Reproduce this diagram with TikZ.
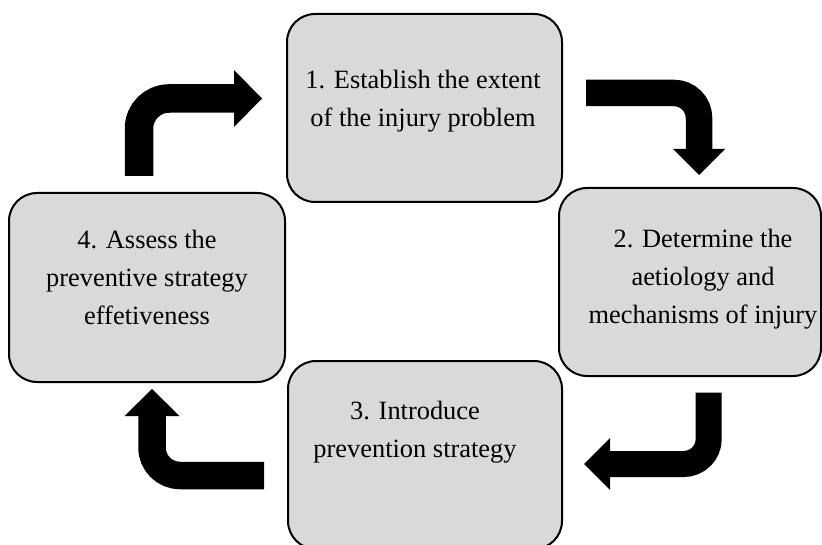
\documentclass[tikz,border=0pt]{standalone}
\usepackage{fontspec}
\setmainfont{Liberation Serif}
\usetikzlibrary{arrows.meta}
\definecolor{boxgray}{HTML}{D9D9D9}
\begin{document}
\begin{tikzpicture}[x=1pt,y=-1pt,
  stepbox/.style={draw=black, line width=2pt, fill=boxgray, rounded corners=28pt, inner sep=0pt},
  steptext/.style={font=\fontsize{26.4}{38}\selectfont, align=center, anchor=north, inner sep=0pt},
  conn/.style={draw=black, line cap=butt, line join=miter}
]
\useasboundingbox (0,0) rectangle (822,545);
\clip (0,0) rectangle (822,545);

% boxes
\node[stepbox, minimum width=275pt, minimum height=188pt] (b1) at (424.5,108) {};
\node[stepbox, minimum width=262pt, minimum height=188pt] (b2) at (690,282) {};
\node[stepbox, minimum width=274pt, minimum height=188pt] (b3) at (425,455) {};
\node[stepbox, minimum width=276pt, minimum height=189pt] (b4) at (147,287.5) {};

% texts
\node[steptext] (t1) at (423,61.4) {\strut 1. Establish the extent\\of the injury problem};
\node[steptext] (t2) at (703,220.4) {\strut 2. Determine the\\aetiology and\\mechanisms of injury};
\node[steptext] (t3) at (415,392.4) {\strut 3. Introduce\\prevention strategy};
\node[steptext] (t4) at (147,221.4) {\strut 4. Assess the\\preventive strategy\\effetiveness};

% bent arrows
\draw[conn, line width=28.5pt, rounded corners=30pt, -{Triangle[width=57pt,length=28pt,line width=0pt]}]
  ([shift={(-8,-16)}]b4.north) |- ([shift={(-24,-9.5)}]b1.west);
\draw[conn, line width=26.5pt, rounded corners=25pt, -{Triangle[width=52pt,length=26pt,line width=0pt]}]
  ([shift={(23,-15)}]b1.east) -| ([shift={(9,-12)}]b2.north);
\draw[conn, line width=26pt, rounded corners=25pt, -{Triangle[width=52pt,length=26pt,line width=0pt]}]
  ([shift={(18.7,15.7)}]b2.south) |- ([shift={(21,9)}]b3.east);
\draw[conn, line width=27.5pt, rounded corners=28pt, -{Triangle[width=55pt,length=27pt,line width=0pt]}]
  ([shift={(-23,20.5)}]b3.west) -| ([shift={(5,6)}]b4.south);
\end{tikzpicture}
\end{document}
